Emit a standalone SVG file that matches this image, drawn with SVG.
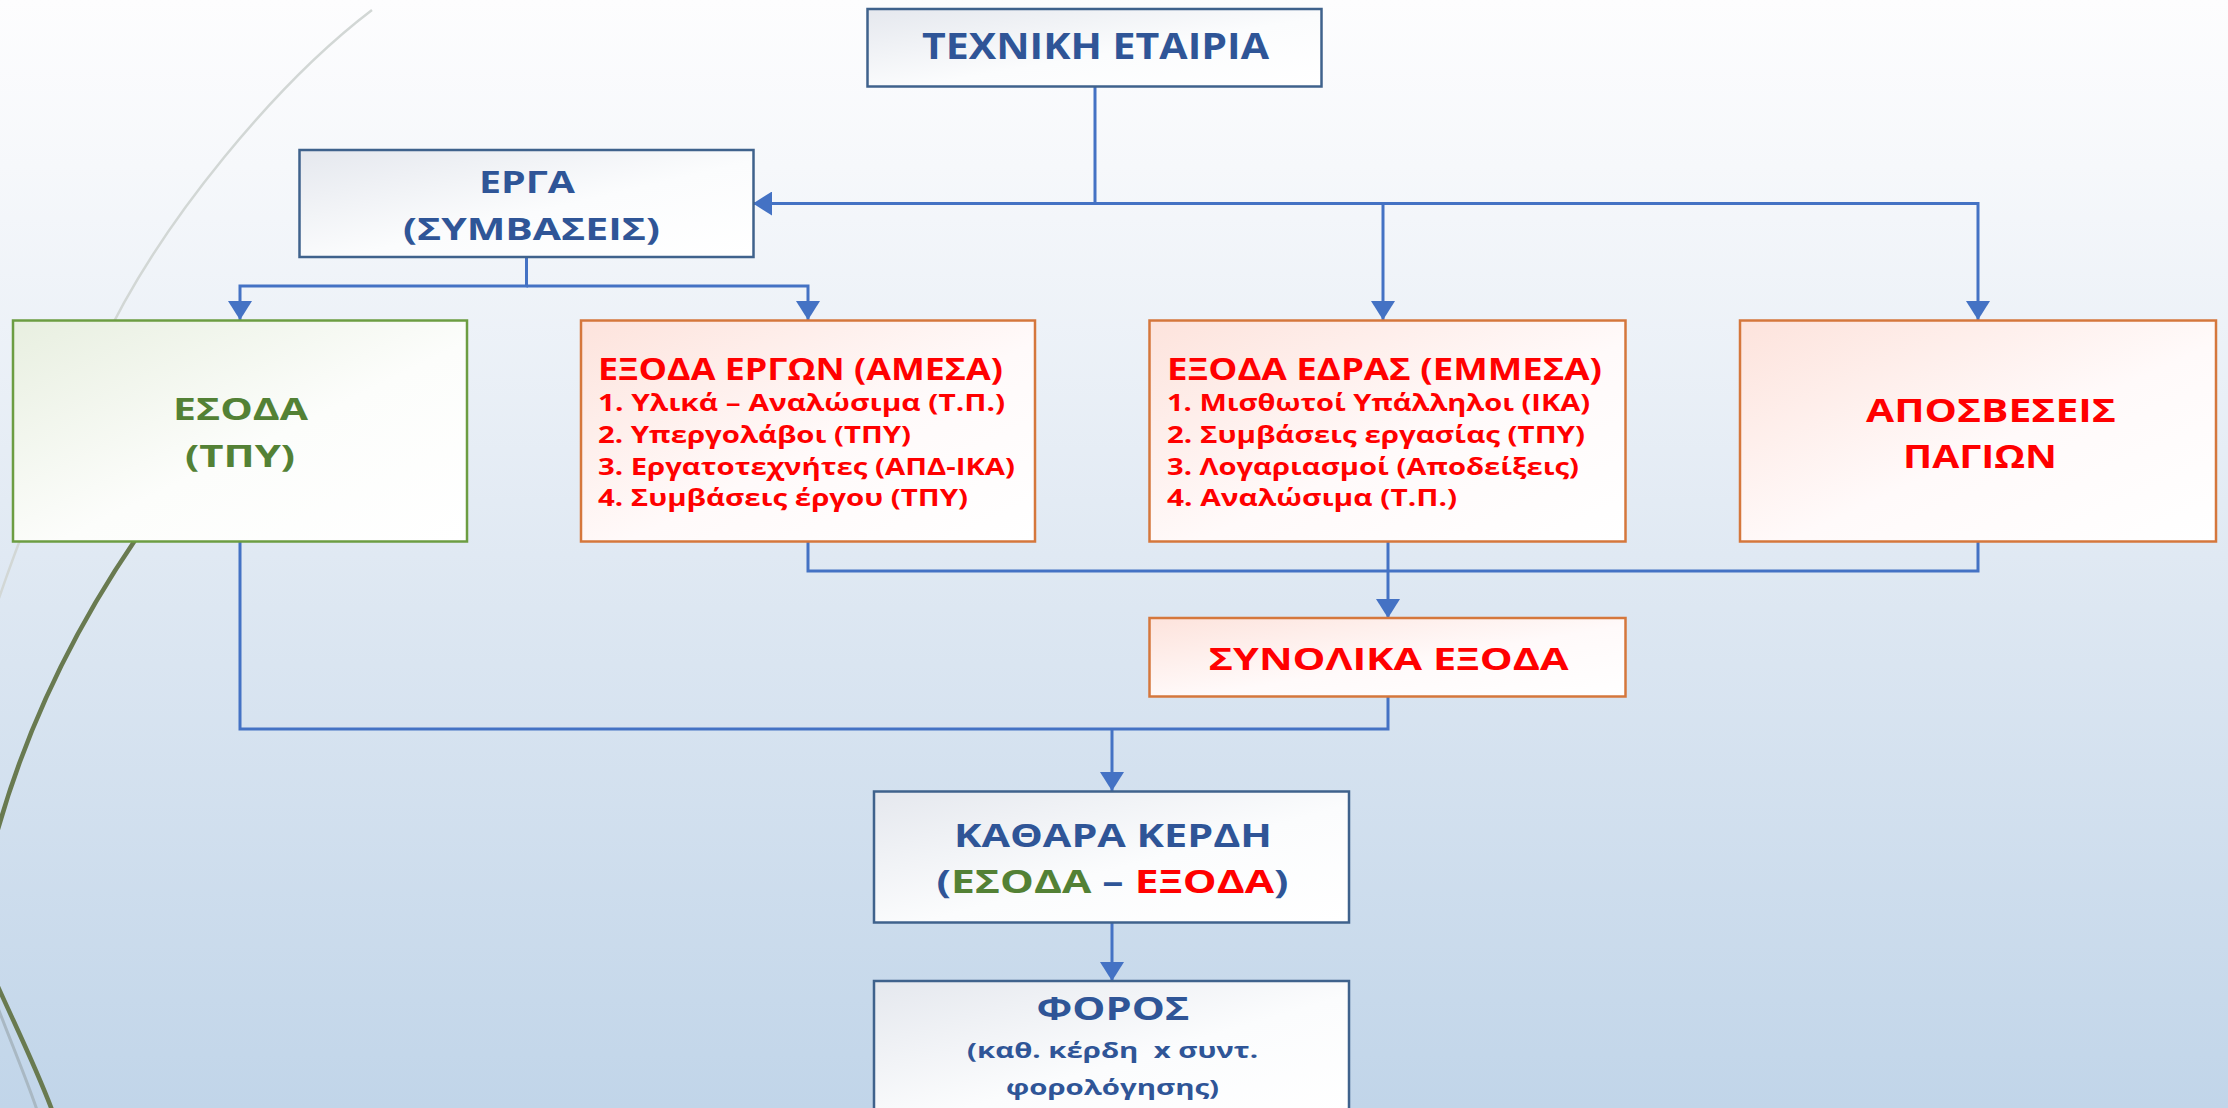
<svg xmlns="http://www.w3.org/2000/svg" width="2228" height="1108" viewBox="0 0 2228 1108">
<defs>
<linearGradient id="bg" x1="0" y1="0" x2="0" y2="1">
<stop offset="0" stop-color="#fdfdfe"/>
<stop offset="0.15" stop-color="#f6f8fb"/>
<stop offset="0.5" stop-color="#e0e9f3"/>
<stop offset="1" stop-color="#c1d5e9"/>
</linearGradient>
<linearGradient id="gBlue" x1="0" y1="0" x2="1" y2="1">
<stop offset="0" stop-color="#e5e8ee"/>
<stop offset="0.55" stop-color="#fbfcfd"/>
<stop offset="1" stop-color="#ffffff"/>
</linearGradient>
<linearGradient id="gGreen" x1="0" y1="0" x2="1" y2="1">
<stop offset="0" stop-color="#e8efe0"/>
<stop offset="0.55" stop-color="#fcfdfb"/>
<stop offset="1" stop-color="#ffffff"/>
</linearGradient>
<linearGradient id="gOrange" x1="0" y1="0" x2="1" y2="1">
<stop offset="0" stop-color="#fde3dc"/>
<stop offset="0.55" stop-color="#fffafa"/>
<stop offset="1" stop-color="#ffffff"/>
</linearGradient>
<marker id="arr" viewBox="0 0 19 24" refX="19" refY="12" markerWidth="19" markerHeight="24" markerUnits="userSpaceOnUse" orient="auto">
<path d="M0,0 L19,12 L0,24 z" fill="#4472c4"/>
</marker>
</defs>
<style>
.bx{stroke-width:2.5}
.blue{fill:url(#gBlue);stroke:#3f628c}
.green{fill:url(#gGreen);stroke:#6c9d42}
.orange{fill:url(#gOrange);stroke:#d5773c}
.t{font-family:"Open Sans","DejaVu Sans",sans-serif;font-weight:bold}
.cb{fill:#2f5597}
.cg{fill:#538135}
.cr{fill:#ff0000}
.ln{fill:none;stroke:#4472c4;stroke-width:3}
</style>
<rect x="0" y="0" width="2228" height="1108" fill="url(#bg)"/>
<g id="decor">
<path d="M372,10 C280,80 160,220 100,350 C60,440 25,520 -5,610" fill="none" stroke="#d2d7d5" stroke-width="2.5"/>
<path d="M160,505 C90,600 30,710 -5,840" fill="none" stroke="#697a50" stroke-width="4.5"/>
<path d="M-5,1000 C10,1040 25,1075 37,1110" fill="none" stroke="#a9b8c3" stroke-width="3"/>
<path d="M-5,980 C15,1025 35,1065 52,1110" fill="none" stroke="#697a50" stroke-width="4.5"/>
</g>
<g id="connectors">
<path class="ln" d="M1095,87 V203.5 H753" marker-end="url(#arr)"/>
<path class="ln" d="M1095,203.5 H1978 V320" marker-end="url(#arr)"/>
<path class="ln" d="M1383,203.5 V320" marker-end="url(#arr)"/>
<path class="ln" d="M526.5,257 V286 H240 V320" marker-end="url(#arr)"/>
<path class="ln" d="M526.5,286 H808 V320" marker-end="url(#arr)"/>
<path class="ln" d="M808,542 V571 H1978 V542"/>
<path class="ln" d="M1388,542 V618" marker-end="url(#arr)"/>
<path class="ln" d="M240,542 V729 H1388 V696.5"/>
<path class="ln" d="M1112,729 V791" marker-end="url(#arr)"/>
<path class="ln" d="M1112,923 V981" marker-end="url(#arr)"/>
</g>
<g id="texniki">
<rect class="bx blue" x="867.5" y="9" width="454" height="77.5"/>
<text class="t cb" x="922" y="58.5" font-size="35" textLength="347" lengthAdjust="spacingAndGlyphs">ΤΕΧΝΙΚΗ ΕΤΑΙΡΙΑ</text>
</g>
<g id="erga">
<rect class="bx blue" x="299.5" y="150" width="454" height="107"/>
<text class="t cb" x="479" y="193" font-size="30" textLength="96" lengthAdjust="spacingAndGlyphs">ΕΡΓΑ</text>
<text class="t cb" x="403" y="240" font-size="30" textLength="257" lengthAdjust="spacingAndGlyphs">(ΣΥΜΒΑΣΕΙΣ)</text>
</g>
<g id="esoda">
<rect class="bx green" x="13" y="320.5" width="454" height="221"/>
<text class="t cg" x="173" y="420" font-size="30" textLength="135" lengthAdjust="spacingAndGlyphs">ΕΣΟΔΑ</text>
<text class="t cg" x="185" y="467" font-size="30" textLength="110" lengthAdjust="spacingAndGlyphs">(ΤΠΥ)</text>
</g>
<g id="exoda-ergon">
<rect class="bx orange" x="581" y="320.5" width="454" height="221"/>
<text class="t cr" x="598" y="380" font-size="30" textLength="405" lengthAdjust="spacingAndGlyphs">ΕΞΟΔΑ ΕΡΓΩΝ (ΑΜΕΣΑ)</text>
<text class="t cr" x="598" y="411" font-size="23" textLength="407" lengthAdjust="spacingAndGlyphs">1. Υλικά – Αναλώσιμα (Τ.Π.)</text>
<text class="t cr" x="598" y="443" font-size="23" textLength="313" lengthAdjust="spacingAndGlyphs">2. Υπεργολάβοι (ΤΠΥ)</text>
<text class="t cr" x="598" y="475" font-size="23" textLength="417" lengthAdjust="spacingAndGlyphs">3. Εργατοτεχνήτες (ΑΠΔ-ΙΚΑ)</text>
<text class="t cr" x="598" y="506" font-size="23" textLength="370" lengthAdjust="spacingAndGlyphs">4. Συμβάσεις έργου (ΤΠΥ)</text>
</g>
<g id="exoda-edras">
<rect class="bx orange" x="1149.5" y="320.5" width="476" height="221"/>
<text class="t cr" x="1167" y="380" font-size="30" textLength="435" lengthAdjust="spacingAndGlyphs">ΕΞΟΔΑ ΕΔΡΑΣ (ΕΜΜΕΣΑ)</text>
<text class="t cr" x="1167" y="411" font-size="23" textLength="423" lengthAdjust="spacingAndGlyphs">1. Μισθωτοί Υπάλληλοι (ΙΚΑ)</text>
<text class="t cr" x="1167" y="443" font-size="23" textLength="418" lengthAdjust="spacingAndGlyphs">2. Συμβάσεις εργασίας (ΤΠΥ)</text>
<text class="t cr" x="1167" y="475" font-size="23" textLength="412" lengthAdjust="spacingAndGlyphs">3. Λογαριασμοί (Αποδείξεις)</text>
<text class="t cr" x="1167" y="506" font-size="23" textLength="290" lengthAdjust="spacingAndGlyphs">4. Αναλώσιμα (Τ.Π.)</text>
</g>
<g id="aposveseis">
<rect class="bx orange" x="1740" y="320.5" width="476" height="221"/>
<text class="t cr" x="1866" y="421.5" font-size="33" textLength="250" lengthAdjust="spacingAndGlyphs">ΑΠΟΣΒΕΣΕΙΣ</text>
<text class="t cr" x="1903" y="467.5" font-size="33" textLength="154" lengthAdjust="spacingAndGlyphs">ΠΑΓΙΩΝ</text>
</g>
<g id="synolika">
<rect class="bx orange" x="1149.5" y="618" width="476" height="78.5"/>
<text class="t cr" x="1208.5" y="670" font-size="31" textLength="360" lengthAdjust="spacingAndGlyphs">ΣΥΝΟΛΙΚΑ ΕΞΟΔΑ</text>
</g>
<g id="kathara">
<rect class="bx blue" x="874" y="791.5" width="475" height="131"/>
<text class="t cb" x="954" y="846.5" font-size="32" textLength="318" lengthAdjust="spacingAndGlyphs">ΚΑΘΑΡΑ ΚΕΡΔΗ</text>
<text class="t cb" x="936.5" y="892.5" font-size="32" textLength="352" lengthAdjust="spacingAndGlyphs">(<tspan class="cg">ΕΣΟΔΑ</tspan> – <tspan class="cr">ΕΞΟΔΑ</tspan>)</text>
</g>
<g id="foros">
<rect class="bx blue" x="874" y="981" width="475" height="140"/>
<text class="t cb" x="1036.5" y="1020" font-size="32" textLength="153" lengthAdjust="spacingAndGlyphs">ΦΟΡΟΣ</text>
<text class="t cb" x="967" y="1058" font-size="22" textLength="291" lengthAdjust="spacingAndGlyphs" xml:space="preserve">(καθ. κέρδη  x συντ.</text>
<text class="t cb" x="1006" y="1095" font-size="22" textLength="213" lengthAdjust="spacingAndGlyphs">φορολόγησης)</text>
</g>
</svg>
